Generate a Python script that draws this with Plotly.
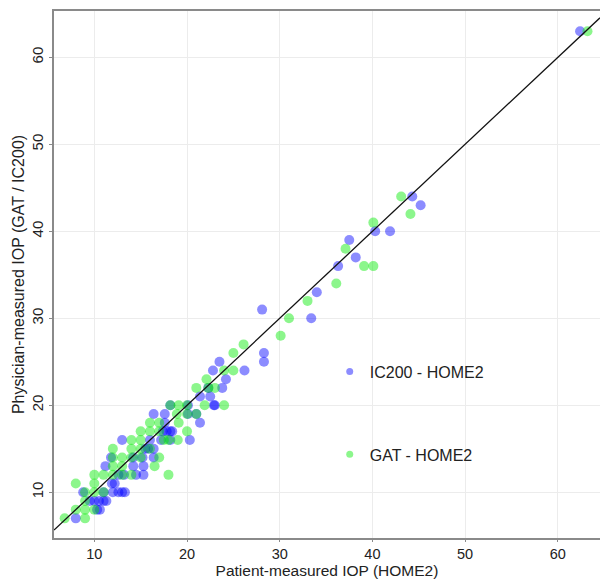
import plotly.graph_objects as go

# IC200 - HOME2 (patient HOME2 vs physician IC200)
ic200_x = [8, 9.5, 10.6, 10.5, 8.8, 10, 10.3, 11, 11.3, 11, 12, 12.6, 13, 13.3, 11.9, 12.2,
           12.6, 13.2, 11.2, 11.8, 13, 14.2, 14.2, 14.5, 15.3, 15.2, 15.5, 15.8, 15.3, 16.4,
           16.4, 16, 16.4, 17.2, 17.6, 17.4, 17.8, 18.2, 18.4, 18.2, 17.6, 18.2, 20.3, 20.1,
           21, 21.4, 20.1, 21.4, 22.5, 22.3, 22.9, 23, 22.8, 23.8, 24.2, 23.5, 26.2, 28.1,
           28.3, 28.3, 33.4, 34, 36.3, 37.5, 38.2, 40.3, 41.9, 44.3, 45.2, 62.4]
ic200_y = [7, 9, 8, 9, 10, 9, 8, 9, 9, 10, 10, 10, 10, 10, 11, 11,
           12, 12, 13, 14, 16, 13, 14, 12, 12, 14, 15, 15, 13, 14,
           15, 16, 19, 16, 19, 17, 17, 17, 17, 16, 18, 20, 16, 19,
           19, 18, 20, 21, 21, 22, 20, 20, 24, 22, 23, 25, 24, 31,
           26, 25, 30, 33, 36, 39, 37, 40, 40, 44, 43, 63]

# GAT - HOME2
gat_x = [6.8, 9, 8, 9, 10, 9, 9, 10, 8, 10, 10, 11, 11, 12, 12, 12, 13, 13, 12, 13,
         14, 14, 14, 14, 15, 15, 15, 15, 16, 16, 16, 16.5, 17, 17, 17, 17.5, 18, 18.2,
         18, 18.9, 19.1, 19.1, 19, 20, 20, 20, 21, 21, 21.9, 22.3, 23, 22.1, 24, 24,
         25, 25, 26.1, 30.1, 31, 33, 36.1, 37.1, 39.1, 40.1, 40.1, 43.1, 44.1, 63.2]
gat_y = [7, 7, 8, 8, 8, 9, 10, 10, 11, 11, 12, 12, 10, 12, 13, 15, 12, 13, 14, 14,
         12, 14, 15, 16, 14, 15, 16, 17, 15, 17, 18, 13, 14, 17, 18, 16, 12, 20,
         16, 19, 20, 18, 16, 17, 19, 20, 19, 22, 20, 22, 22, 23, 20, 24,
         24, 26, 27, 28, 30, 32, 34, 38, 36, 36, 41, 44, 42, 63]

x_range = [5.65, 64.55]
y_range = [4.74, 65.33]
ticks = [10, 20, 30, 40, 50, 60]
line_span = [5.65, 64.55]

blue = "rgba(0,0,255,0.45)"
green = "rgba(0,235,0,0.45)"
font = "Liberation Sans, Arial, sans-serif"

fig = go.Figure()
fig.add_trace(go.Scatter(x=ic200_x, y=ic200_y, mode="markers", showlegend=False,
                         marker=dict(size=10, color=blue, line=dict(width=0))))
fig.add_trace(go.Scatter(x=gat_x, y=gat_y, mode="markers", showlegend=False,
                         marker=dict(size=10, color=green, line=dict(width=0))))
fig.add_trace(go.Scatter(x=line_span, y=line_span, mode="lines", showlegend=False,
                         line=dict(color="#111111", width=1.3)))
# legend entries
fig.add_trace(go.Scatter(x=[None], y=[None], mode="markers", name="IC200 - HOME2",
                         legendgroup="a", marker=dict(size=7, color=blue)))
fig.add_trace(go.Scatter(x=[None], y=[None], mode="markers", name="GAT - HOME2",
                         legendgroup="b", marker=dict(size=7, color=green)))

axis_common = dict(
    showgrid=True, gridcolor="#ececec", gridwidth=1,
    showline=True, linecolor="#8a8a8a", linewidth=1.5,
    ticks="outside", tickcolor="#8a8a8a",
    tickvals=ticks, zeroline=False,
)

fig.update_layout(
    width=600, height=579,
    margin=dict(l=54, r=0, t=11, b=41),
    paper_bgcolor="white", plot_bgcolor="white",
    font=dict(family=font, color="#222222"),
    xaxis=dict(range=x_range, mirror=True, ticklen=2, **axis_common,
               tickfont=dict(family=font, size=14.5, color="#222222"),
               title=dict(text="Patient-measured IOP (HOME2)", font=dict(size=15.5), standoff=4)),
    yaxis=dict(range=y_range, tickangle=-90, ticklen=3, **axis_common,
               tickfont=dict(family=font, size=15, color="#222222"),
               title=dict(text="Physician-measured IOP (GAT / IC200)", font=dict(size=16), standoff=1)),
    legend=dict(x=0.505, y=0.348, xanchor="left", yanchor="top",
                bgcolor="rgba(0,0,0,0)", tracegroupgap=59,
                font=dict(family=font, size=16, color="#222222"),
                traceorder="grouped"),
)

fig.write_html("out.html")
